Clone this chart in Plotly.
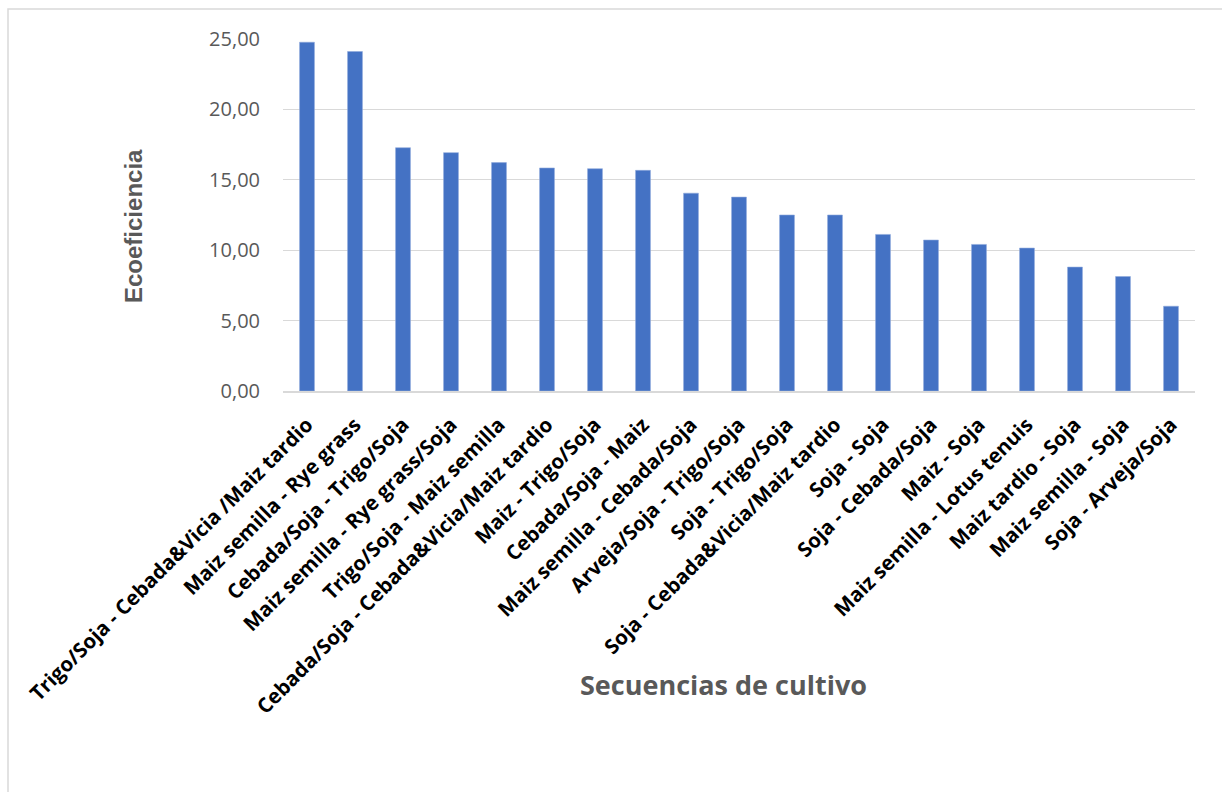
import plotly.graph_objects as go

secuencias = [
    "Trigo/Soja - Cebada&Vicia /Maiz tardio",
    "Maiz semilla - Rye grass",
    "Cebada/Soja - Trigo/Soja",
    "Maiz semilla - Rye grass/Soja",
    "Trigo/Soja - Maiz semilla",
    "Cebada/Soja - Cebada&Vicia/Maiz tardio",
    "Maiz - Trigo/Soja",
    "Cebada/Soja - Maiz",
    "Maiz semilla - Cebada/Soja",
    "Arveja/Soja - Trigo/Soja",
    "Soja - Trigo/Soja",
    "Soja - Cebada&Vicia/Maiz tardio",
    "Soja - Soja",
    "Soja - Cebada/Soja",
    "Maiz - Soja",
    "Maiz semilla - Lotus tenuis",
    "Maiz tardio - Soja",
    "Maiz semilla - Soja",
    "Soja - Arveja/Soja",
]
ecoeficiencia = [24.77, 24.11, 17.28, 16.93, 16.22, 15.84, 15.79, 15.67, 14.05,
                 13.77, 12.50, 12.50, 11.12, 10.72, 10.41, 10.15, 8.80, 8.13, 6.02]
y_ticks = [0, 5, 10, 15, 20, 25]

W, H = 1222, 792
L, R, T, B = 283, 27, 39, 401
pw, ph = W - L - R, H - T - B


def px_x(x):
    return (x - L) / pw


def px_y(y):
    return (H - B - y) / ph


fig = go.Figure(
    go.Bar(
        x=secuencias,
        y=ecoeficiencia,
        marker=dict(color="#4472C4", line=dict(color="#8FAADC", width=0.6)),
        width=0.31,
    )
)

fig.update_layout(
    width=W,
    height=H,
    margin=dict(l=L, r=R, t=T, b=B, pad=0),
    paper_bgcolor="white",
    plot_bgcolor="white",
    separators=",.",
    showlegend=False,
    xaxis=dict(
        tickangle=-45,
        tickfont=dict(family="Open Sans", size=20.5, color="#000000", weight="bold"),
        showgrid=False,
        showline=True,
        linecolor="#D9D9D9",
        linewidth=1.5,
        ticks="",
        ticklabelstandoff=12,
    ),
    yaxis=dict(
        range=[0, 25],
        tickvals=y_ticks,
        tickformat=".2f",
        tickfont=dict(family="Open Sans", size=20, color="#595959"),
        showgrid=True,
        gridcolor="#D9D9D9",
        gridwidth=1.3,
        zeroline=False,
        showline=False,
        ticks="",
        ticklabelstandoff=22,
    ),
    shapes=[
        dict(
            type="rect", xref="paper", yref="paper",
            x0=px_x(8), x1=px_x(W + 20), y0=px_y(H + 20), y1=px_y(9),
            line=dict(color="#D9D9D9", width=1.5), fillcolor="rgba(0,0,0,0)",
            layer="below",
        )
    ],
    annotations=[
        dict(
            text="<b>Ecoeficiencia</b>", xref="paper", yref="paper",
            x=px_x(133), y=px_y(226), xanchor="center", yanchor="middle",
            showarrow=False, textangle=-90,
            font=dict(family="Liberation Sans", size=24, color="#595959"),
        ),
        dict(
            text="<b>Secuencias de cultivo</b>", xref="paper", yref="paper",
            x=px_x(723), y=px_y(684), xanchor="center", yanchor="middle",
            showarrow=False,
            font=dict(family="Open Sans", size=27, color="#595959"),
        ),
    ],
)

fig.write_html("out.html")
